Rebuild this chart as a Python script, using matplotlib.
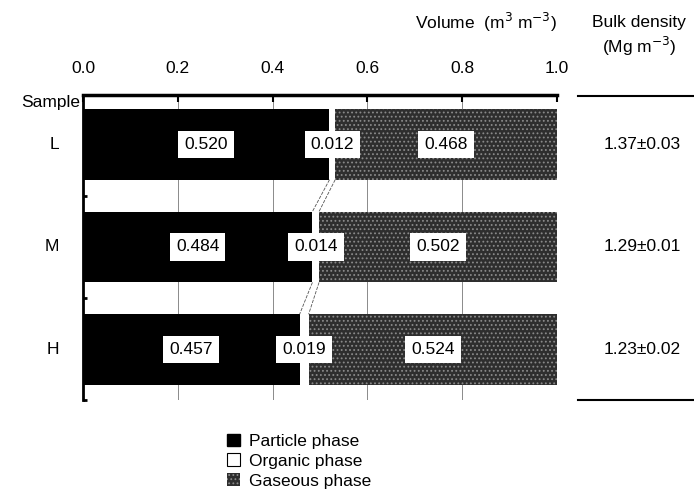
import matplotlib
matplotlib.use("Agg")
import matplotlib.pyplot as plt
from matplotlib.lines import Line2D
from matplotlib.patches import Patch

plt.rcParams['font.family'] = ['Liberation Sans', 'DejaVu Sans']
plt.rcParams['hatch.linewidth'] = 0.8
plt.rcParams['hatch.color'] = '#8a8a8a'

# data
samples = ["L", "M", "H"]
particle = [0.520, 0.484, 0.457]
organic = [0.012, 0.014, 0.019]
gaseous = [0.468, 0.502, 0.524]
bulk_density = ["1.37±0.03", "1.29±0.01", "1.23±0.02"]
xticks = [0.0, 0.2, 0.4, 0.6, 0.8, 1.0]

FS = 12.5

fig = plt.figure(figsize=(6.94, 4.94), dpi=100)
ax = fig.add_axes([0.1196, 0.1903, 0.683, 0.6174])

ypos = list(range(len(samples)))
h = 0.69
gas_color = '#2e2e2e'

for i in ypos:
    p, o, g = particle[i], organic[i], gaseous[i]
    ax.barh(i, p, height=h, color='black', zorder=2)
    ax.barh(i, o, left=p, height=h, color='white', zorder=2)
    ax.barh(i, g, left=p + o, height=h, color=gas_color, hatch='....',
            edgecolor='#8a8a8a', linewidth=0, zorder=2)
    box = dict(boxstyle='square,pad=0.35', fc='white', ec='none')
    ax.text(p / 2, i, f"{p:.3f}", ha='center', va='center', fontsize=FS,
            bbox=box, zorder=4)
    ax.text(p + o / 2, i, f"{o:.3f}", ha='center', va='center', fontsize=FS,
            bbox=box, zorder=4)
    ax.text(p + o + g / 2, i, f"{g:.3f}", ha='center', va='center', fontsize=FS,
            bbox=box, zorder=4)

# thin connectors between organic phases of neighbouring bars
for i in ypos[:-1]:
    for a, b in [(particle[i], particle[i + 1]),
                 (particle[i] + organic[i], particle[i + 1] + organic[i + 1])]:
        ax.plot([a, b], [i + h / 2, i + 1 - h / 2], color='#555555', lw=0.6,
                ls=(0, (4, 1.5)), zorder=3)

ax.set_xlim(0, 1.0)
ax.set_ylim(2.49, -0.48)

# grid lines visible in the gaps
for x in [0.2, 0.4, 0.6, 0.8, 1.0]:
    ax.axvline(x, color='#777777', lw=0.6, zorder=1)

ax.xaxis.tick_top()
ax.set_xticks(xticks)
ax.set_xticklabels([f"{v:.1f}" for v in xticks], fontsize=FS)
ax.tick_params(axis='x', direction='in', length=5, width=1.5, pad=14)

ax.set_yticks([0.5, 1.5, 2.49])
ax.set_yticklabels([])
ax.tick_params(axis='y', direction='in', length=3, width=2)

for s in ['right', 'bottom']:
    ax.spines[s].set_visible(False)
ax.spines['top'].set_linewidth(2.5)
ax.spines['left'].set_linewidth(2)

for i, s in enumerate(samples):
    ax.text(-0.05, i, s, ha='right', va='center', fontsize=FS,
            transform=ax.get_yaxis_transform())
ax.text(-0.006, 0.975, "Sample", ha='right', va='center', fontsize=FS,
        transform=ax.transAxes)

# headers
fig.text(0.802, 0.955, r"Volume  (m$^3$ m$^{-3}$)", ha='right', va='center',
         fontsize=FS)
fig.text(0.921, 0.955, "Bulk density", ha='center', va='center', fontsize=FS)
fig.text(0.921, 0.905, r"(Mg m$^{-3}$)", ha='center', va='center', fontsize=FS)

# bulk density column
for i, bd in enumerate(bulk_density):
    y_fig = fig.transFigure.inverted().transform(ax.transData.transform((0, i)))[1]
    fig.text(0.925, y_fig, bd, ha='center', va='center', fontsize=FS)
for yy in [0.806, 0.19]:
    fig.add_artist(Line2D([0.833, 1.0], [yy, yy], color='black', lw=1.5,
                          transform=fig.transFigure))

handles = [Patch(facecolor='black', edgecolor='black'),
           Patch(facecolor='white', edgecolor='black', linewidth=0.8),
           Patch(facecolor=gas_color, hatch='....', edgecolor='#8a8a8a', linewidth=0)]
fig.legend(handles, ["Particle phase", "Organic phase", "Gaseous phase"],
           loc='upper left', bbox_to_anchor=(0.327, 0.122), frameon=False,
           fontsize=FS, handlelength=0.75, handleheight=0.75, handletextpad=0.5,
           labelspacing=0.25, borderaxespad=0, borderpad=0)

fig.savefig("out.png", dpi=100)
